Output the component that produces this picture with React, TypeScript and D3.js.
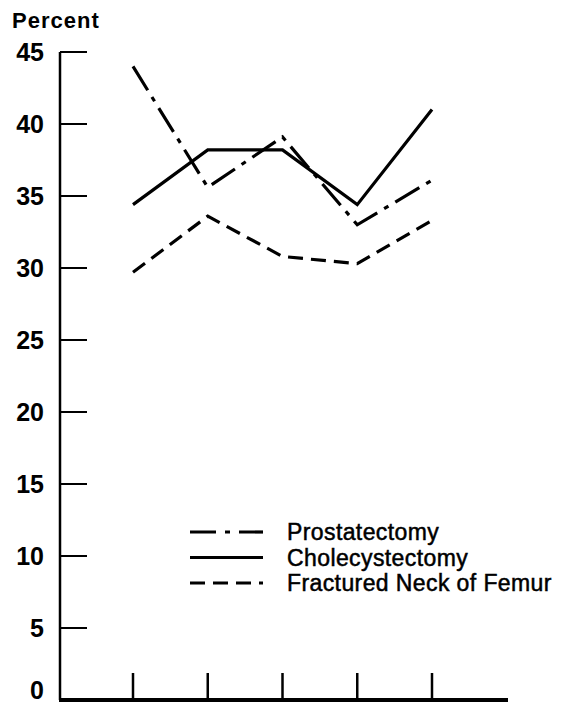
import React, { useEffect, useRef } from 'react';
import * as d3 from 'd3';

// periods along the x axis (no labels printed on the original)
const periods = ['P1', 'P2', 'P3', 'P4', 'P5'];
const prostatectomy = [44.0, 35.6, 39.1, 33.0, 36.1];
const cholecystectomy = [34.4, 38.2, 38.2, 34.4, 41.0];
const fracturedFemur = [29.7, 33.6, 30.8, 30.3, 33.3];
const yTicks = [0, 5, 10, 15, 20, 25, 30, 35, 40, 45];

const seriesNames = ['Prostatectomy', 'Cholecystectomy', 'Fractured Neck of Femur'];
const seriesDash = ['28,8,5,8', null, '15,8'];

const App = () => {
    const ref = useRef<SVGSVGElement>(null);

    useEffect(() => {
        const axisX = 60;
        const axisY = 700;

        const svg = d3.select(ref.current);
        svg.selectAll('*').remove();

        const x = d3.scalePoint<string>()
            .domain(periods)
            .range([133, 432]);

        const y = d3.scaleLinear()
            .domain([0, 45])
            .range([axisY, 52]);

        const font = '"Liberation Sans", Arial, Helvetica, sans-serif';

        // y axis
        svg.append('line')
            .attr('x1', axisX).attr('x2', axisX)
            .attr('y1', y(45)).attr('y2', axisY)
            .attr('stroke', '#000').attr('stroke-width', 2.5);

        svg.append('g')
            .selectAll('line')
            .data(yTicks.filter(d => d > 0))
            .join('line')
            .attr('x1', axisX).attr('x2', axisX + 27)
            .attr('y1', d => y(d)).attr('y2', d => y(d))
            .attr('stroke', '#000').attr('stroke-width', 2);

        // labels; the bottom one sits a little higher so it stays on the page
        svg.append('g')
            .attr('font-family', font)
            .attr('font-weight', 'bold')
            .attr('font-size', 25)
            .attr('text-anchor', 'end')
            .selectAll('text')
            .data(yTicks)
            .join('text')
            .attr('x', 44)
            .attr('y', d => Math.min(y(d) + 9, 699))
            .text(d => d);

        svg.append('text')
            .attr('x', 12).attr('y', 28)
            .attr('font-family', font)
            .attr('font-weight', 'bold')
            .attr('font-size', 22)
            .attr('letter-spacing', 1)
            .text('Percent');

        // x axis
        svg.append('line')
            .attr('x1', axisX - 1).attr('x2', 508)
            .attr('y1', axisY).attr('y2', axisY)
            .attr('stroke', '#000').attr('stroke-width', 4);

        svg.append('g')
            .selectAll('line')
            .data(periods)
            .join('line')
            .attr('x1', d => x(d)!).attr('x2', d => x(d)!)
            .attr('y1', axisY).attr('y2', axisY - 27)
            .attr('stroke', '#000').attr('stroke-width', 2.5);

        // series lines
        const line = d3.line<number>()
            .x((d, i) => x(periods[i])!)
            .y(d => y(d));

        [prostatectomy, cholecystectomy, fracturedFemur].forEach((values, i) => {
            svg.append('path')
                .datum(values)
                .attr('d', line)
                .attr('fill', 'none')
                .attr('stroke', '#000')
                .attr('stroke-width', 3.2)
                .attr('stroke-linejoin', 'miter')
                .attr('stroke-dasharray', seriesDash[i]);
        });

        // legend
        const legend = svg.append('g');
        seriesNames.forEach((name, i) => {
            const ly = 532 + i * 25.5;
            legend.append('line')
                .attr('x1', 190).attr('x2', 263)
                .attr('y1', ly).attr('y2', ly)
                .attr('stroke', '#000')
                .attr('stroke-width', 3.2)
                .attr('stroke-dasharray', i === 0 ? '26,9,5,9' : seriesDash[i]);
            legend.append('text')
                .attr('x', 287).attr('y', ly + 8)
                .attr('font-family', font)
                .attr('font-size', 23)
                .attr('letter-spacing', 0.4)
                .attr('stroke', '#000')
                .attr('stroke-width', 0.5)
                .text(name);
        });
    }, []);

    return (
        <svg ref={ref} width={561} height={705}
            style={{ position: 'absolute', left: 0, top: 0, background: '#fff' }} />
    );
};

export default App;
